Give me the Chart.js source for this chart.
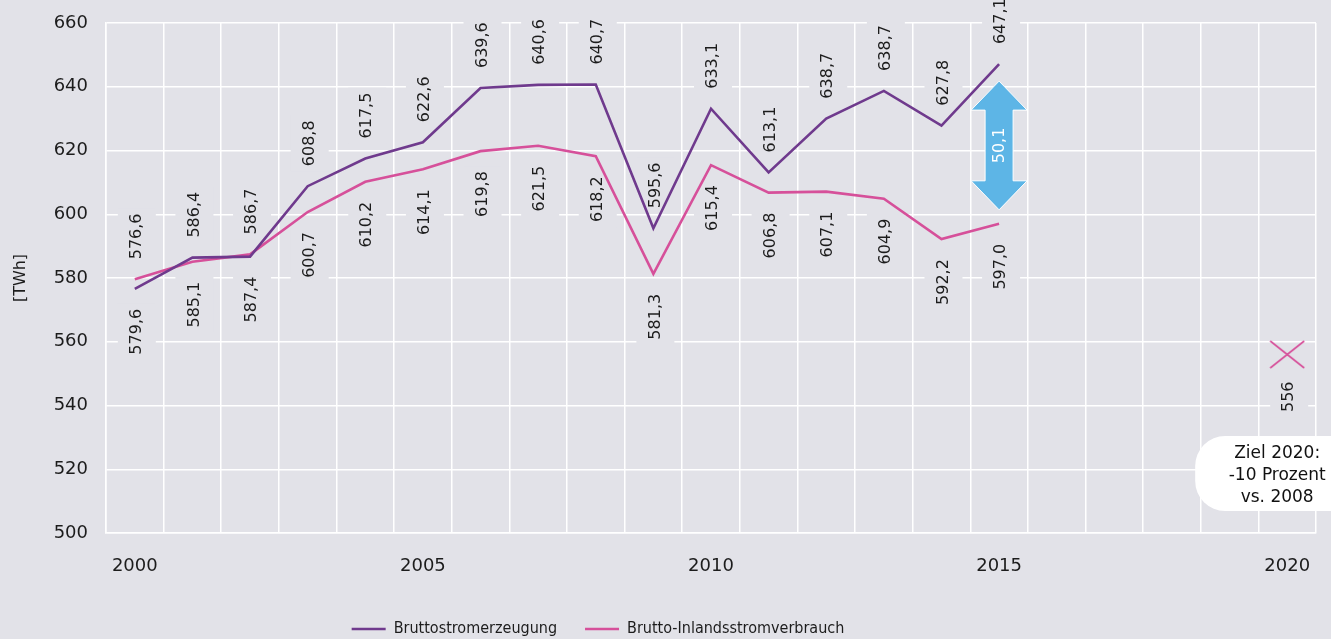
<!DOCTYPE html>
<html lang="de">
<head>
<meta charset="utf-8">
<title>Bruttostromerzeugung und Brutto-Inlandsstromverbrauch</title>
<script src="https://cdn.jsdelivr.net/npm/chart.js@4.4.1/dist/chart.umd.min.js"></script>
<style>
  html, body { margin: 0; padding: 0; background: #e2e2e8; }
  canvas { display: block; }
</style>
</head>
<body>
<canvas id="chart" width="1331" height="639"></canvas>
<script>
const jahre = ['2000', '2001', '2002', '2003', '2004', '2005', '2006', '2007', '2008', '2009', '2010',
  '2011', '2012', '2013', '2014', '2015', '2016', '2017', '2018', '2019', '2020'];

const erzeugung = [576.6, 586.4, 586.7, 608.8, 617.5, 622.6, 639.6, 640.6, 640.7, 595.6, 633.1,
  613.1, 630.0, 638.7, 627.8, 647.1, null, null, null, null, null];
// the source prints 638,7 over 2012 although its line sits near 630
const erzeugungText = { 12: '638,7' };

const verbrauch = [579.6, 585.1, 587.4, 600.7, 610.2, 614.1, 619.8, 621.5, 618.2, 581.3, 615.4,
  606.8, 607.1, 604.9, 592.2, 597.0, null, null, null, null, null];

const ziel2020 = [null, null, null, null, null, null, null, null, null, null, null,
  null, null, null, null, null, null, null, null, null, 556];
const zielText = ['Ziel 2020:', '-10 Prozent', 'vs. 2008'];

const yMin = 500, yMax = 660, yStep = 20;

const BG = '#e2e2e8';
const PURPLE = '#6f3a8d';
const PINK = '#d6509a';
const BLUE = '#5db5e6';
const TEXT = '#1c1c1c';
const NUM_FONT = '"DejaVu Sans", sans-serif';

const fmt = v => v.toFixed(1).replace('.', ',');

// X marker for the 2020 target (wider than tall, like the original)
const kreuz = document.createElement('canvas');
kreuz.width = 36; kreuz.height = 29;
(() => {
  const c = kreuz.getContext('2d');
  c.strokeStyle = PINK; c.lineWidth = 1.6;
  c.beginPath();
  c.moveTo(1, 1); c.lineTo(35, 28);
  c.moveTo(35, 1); c.lineTo(1, 28);
  c.stroke();
})();

function rotLabel(ctx, text, x, y, up, color, bg) {
  ctx.save();
  ctx.translate(x, y);
  ctx.rotate(-Math.PI / 2);
  ctx.font = '16px ' + NUM_FONT;
  ctx.textBaseline = 'middle';
  ctx.textAlign = up ? 'left' : 'right';
  const w = ctx.measureText(text).width;
  if (bg) {
    ctx.fillStyle = bg;
    ctx.fillRect(up ? -5 : -w - 5, -19, w + 10, 38);
  }
  ctx.fillStyle = color;
  ctx.fillText(text, 0, 0);
  ctx.restore();
}

const hintergrund = {
  id: 'hintergrund',
  beforeDraw(chart) {
    const ctx = chart.ctx;
    ctx.save();
    ctx.fillStyle = BG;
    ctx.fillRect(0, 0, chart.width, chart.height);
    ctx.restore();
  }
};

const werte = {
  id: 'werte',
  beforeDatasetsDraw(chart) {
    const ctx = chart.ctx;
    const a = chart.getDatasetMeta(0).data;
    const b = chart.getDatasetMeta(1).data;
    erzeugung.forEach((v, i) => {
      if (v == null || verbrauch[i] == null) return;
      const oben = Math.min(a[i].y, b[i].y);
      const unten = Math.max(a[i].y, b[i].y);
      rotLabel(ctx, erzeugungText[i] || fmt(v), a[i].x + 2, oben - 20, true, TEXT, BG);
      rotLabel(ctx, fmt(verbrauch[i]), b[i].x + 2, unten + 20, false, TEXT, BG);
    });
    const z = chart.getDatasetMeta(2).data;
    ziel2020.forEach((v, i) => {
      if (v == null) return;
      rotLabel(ctx, String(v), z[i].x + 2, z[i].y + 27, false, TEXT, BG);
    });
  }
};

const differenz = {
  id: 'differenz',
  afterDatasetsDraw(chart) {
    const ctx = chart.ctx;
    const a = chart.getDatasetMeta(0).data;
    const b = chart.getDatasetMeta(1).data;
    let i = erzeugung.length - 1;
    while (i > 0 && (erzeugung[i] == null || verbrauch[i] == null)) i--;
    const x = a[i].x;
    const top = a[i].y + 17, bot = b[i].y - 14;
    const head = 29, hw = 28, sw = 14;
    ctx.save();
    ctx.beginPath();
    ctx.moveTo(x, top);
    ctx.lineTo(x + hw, top + head);
    ctx.lineTo(x + sw, top + head);
    ctx.lineTo(x + sw, bot - head);
    ctx.lineTo(x + hw, bot - head);
    ctx.lineTo(x, bot);
    ctx.lineTo(x - hw, bot - head);
    ctx.lineTo(x - sw, bot - head);
    ctx.lineTo(x - sw, top + head);
    ctx.lineTo(x - hw, top + head);
    ctx.closePath();
    ctx.fillStyle = BLUE;
    ctx.fill();
    ctx.strokeStyle = '#ffffff';
    ctx.lineWidth = 1;
    ctx.stroke();
    ctx.restore();
    const d = fmt(erzeugung[i] - verbrauch[i]);
    ctx.save();
    ctx.translate(x + 1, (top + bot) / 2);
    ctx.rotate(-Math.PI / 2);
    ctx.font = '16px ' + NUM_FONT;
    ctx.textAlign = 'center';
    ctx.textBaseline = 'middle';
    ctx.fillStyle = '#ffffff';
    ctx.fillText(d, 0, 0);
    ctx.restore();
  }
};

const zielBox = {
  id: 'zielBox',
  afterDatasetsDraw(chart) {
    const ctx = chart.ctx;
    const z = chart.getDatasetMeta(2).data;
    const i = ziel2020.findIndex(v => v != null);
    const cx = z[i].x;
    const area = chart.chartArea;
    const x0 = cx - 92, x1 = chart.width + 40;
    const y1 = area.bottom - 22, y0 = y1 - 75;
    const r = 30;
    ctx.save();
    ctx.beginPath();
    ctx.moveTo(x0 + r, y0);
    ctx.lineTo(x1, y0);
    ctx.lineTo(x1, y1);
    ctx.lineTo(x0 + r, y1);
    ctx.arcTo(x0, y1, x0, y1 - r, r);
    ctx.lineTo(x0, y0 + r);
    ctx.arcTo(x0, y0, x0 + r, y0, r);
    ctx.closePath();
    ctx.fillStyle = '#ffffff';
    ctx.fill();
    ctx.font = '17px ' + NUM_FONT;
    ctx.fillStyle = '#111111';
    ctx.textAlign = 'center';
    ctx.textBaseline = 'middle';
    zielText.forEach((t, k) => ctx.fillText(t, cx - 10, y0 + 18 + k * 22));
    ctx.restore();
  }
};

const legendeVerschieben = {
  id: 'legendeVerschieben',
  afterLayout(chart) {
    const lg = chart.legend;
    lg.left -= 60; lg.right -= 60;
    lg.top += 8; lg.bottom += 8;
  }
};

new Chart(document.getElementById('chart'), {
  type: 'line',
  data: {
    labels: jahre,
    datasets: [{
      label: 'Bruttostromerzeugung',
      data: erzeugung,
      borderColor: PURPLE,
      backgroundColor: PURPLE,
      borderWidth: 2.6,
      pointRadius: 0,
      pointStyle: 'line',
      tension: 0
    }, {
      label: 'Brutto-Inlandsstromverbrauch',
      data: verbrauch,
      borderColor: PINK,
      backgroundColor: PINK,
      borderWidth: 2.6,
      pointRadius: 0,
      pointStyle: 'line',
      tension: 0
    }, {
      label: 'Ziel 2020',
      data: ziel2020,
      showLine: false,
      pointStyle: kreuz,
      pointRadius: 14,
      borderColor: PINK,
      backgroundColor: PINK
    }]
  },
  options: {
    responsive: false,
    animation: false,
    events: [],
    layout: { padding: { top: 23, right: 15, bottom: 0, left: 0 } },
    plugins: {
      tooltip: { enabled: false },
      legend: {
        position: 'bottom',
        labels: {
          usePointStyle: true,
          pointStyleWidth: 34,
          padding: 28,
          color: TEXT,
          font: { family: '"DejaVu Sans Condensed", sans-serif', size: 16 },
          filter: item => item.datasetIndex < 2
        }
      }
    },
    scales: {
      x: {
        type: 'category',
        offset: true,
        afterFit(scale) { scale.height = 52; scale.paddingLeft = 0; scale.paddingRight = 0; },
        grid: { offset: true, color: '#ffffff', lineWidth: 1.5, drawTicks: false },
        border: { color: '#ffffff', width: 1.5 },
        ticks: {
          autoSkip: false, maxRotation: 0, padding: 23, color: TEXT,
          font: { family: NUM_FONT, size: 18 },
          callback(v) { const j = this.getLabelForValue(v); return Number(j) % 5 === 0 ? j : ''; }
        }
      },
      y: {
        min: yMin, max: yMax,
        afterFit(scale) { scale.width = 106; scale.paddingTop = 0; scale.paddingBottom = 0; },
        grid: { color: '#ffffff', lineWidth: 1.5, drawTicks: false },
        border: { color: '#ffffff', width: 1.5 },
        ticks: { stepSize: yStep, padding: 18, color: TEXT, font: { family: NUM_FONT, size: 18 } },
        title: {
          display: true, text: '[TWh]', color: TEXT,
          font: { family: NUM_FONT, size: 16 },
          padding: { top: 11, bottom: 0 }
        }
      }
    }
  },
  plugins: [hintergrund, werte, differenz, zielBox, legendeVerschieben]
});
</script>
</body>
</html>
